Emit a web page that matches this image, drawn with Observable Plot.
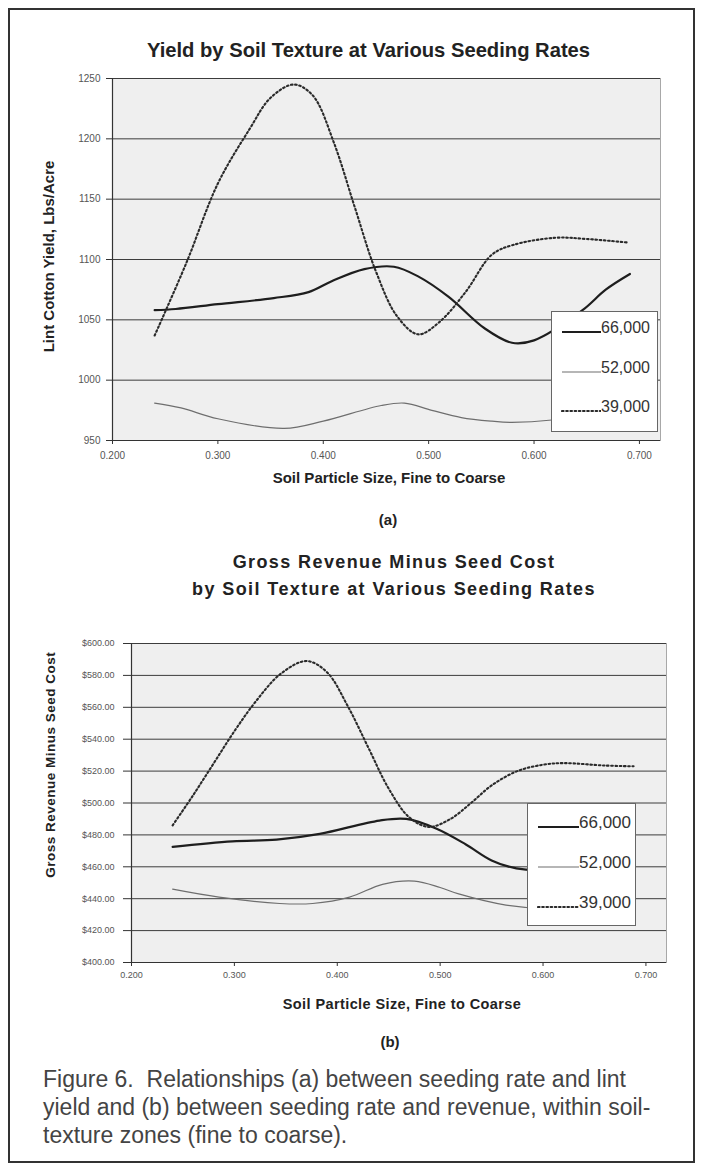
<!DOCTYPE html>
<html><head><meta charset="utf-8">
<script src="https://cdn.jsdelivr.net/npm/d3@7"></script>
<script src="https://cdn.jsdelivr.net/npm/@observablehq/plot@0.6"></script>
<style>
body{margin:0;background:#fff;}
#page{position:relative;width:701px;height:1167px;overflow:hidden;font-family:"Liberation Sans",Arial,sans-serif;color:#222;}
.abs{position:absolute;white-space:nowrap;}
.frame{left:8px;top:8px;width:687px;height:1155px;border:2px solid #333;box-sizing:border-box;}
.b{font-weight:bold;}
.legend{background:#fff;border:1px solid #666;box-sizing:border-box;}
.legend .item{position:absolute;left:9px;color:#333;display:flex;align-items:flex-end;}
</style></head><body><div id="page"><div class="abs frame"></div></div>
<script>
// ---------- data ----------
const seriesNames = ["66,000", "52,000", "39,000"];
const xTicks = [0.2, 0.3, 0.4, 0.5, 0.6, 0.7];
const yTicksA = [950, 1000, 1050, 1100, 1150, 1200, 1250];
const yTicksB = [400, 420, 440, 460, 480, 500, 520, 540, 560, 580, 600];

// (a) Yield, lbs/acre
const a66x = [0.24, 0.26, 0.30, 0.353, 0.386, 0.408, 0.439, 0.467, 0.49, 0.519, 0.553, 0.579, 0.60, 0.646, 0.668, 0.691];
const a66y = [1058, 1059, 1063, 1068, 1073, 1082, 1092, 1094, 1086, 1069, 1043, 1031, 1033, 1058, 1075, 1088];
const a52x = [0.24, 0.265, 0.30, 0.363, 0.40, 0.455, 0.477, 0.503, 0.531, 0.56, 0.579, 0.617, 0.65, 0.685];
const a52y = [981, 977, 968, 960, 966, 979, 981, 975, 969, 966, 965, 967, 972, 978];
const a39x = [0.24, 0.27, 0.30, 0.33, 0.35, 0.372, 0.39, 0.41, 0.43, 0.45, 0.47, 0.49, 0.51, 0.535, 0.56, 0.58, 0.62, 0.65, 0.69];
const a39y = [1037, 1097, 1163, 1208, 1234, 1245, 1236, 1197, 1143, 1090, 1053, 1038, 1048, 1073, 1104, 1112, 1118, 1117, 1114];

// (b) Gross revenue minus seed cost, $
const b66x = [0.24, 0.298, 0.341, 0.383, 0.441, 0.467, 0.496, 0.525, 0.55, 0.574, 0.60, 0.64, 0.68];
const b66y = [472.5, 476, 477, 480.6, 489, 490, 484, 474, 464, 459, 458, 462, 470];
const b52x = [0.24, 0.285, 0.344, 0.376, 0.412, 0.444, 0.475, 0.50, 0.518, 0.564, 0.60, 0.64, 0.68];
const b52y = [446, 441, 437, 437, 441, 449, 451, 447, 443, 436, 434, 436, 440];
const b39x = [0.24, 0.26, 0.28, 0.30, 0.32, 0.345, 0.37, 0.39, 0.41, 0.43, 0.45, 0.47, 0.489, 0.51, 0.53, 0.55, 0.575, 0.60, 0.62, 0.66, 0.688];
const b39y = [486, 505, 525, 545, 563, 581, 589, 582, 561, 535, 509, 491, 485, 490, 500, 511, 520, 524, 525, 523.5, 523];

const captionLines = [
  "Figure 6.  Relationships (a) between seeding rate and lint",
  "yield and (b) between seeding rate and revenue, within soil-",
  "texture zones (fine to coarse)."
];

// ---------- helpers ----------
const page = document.getElementById("page");
const FONT = '"Liberation Sans", Arial, sans-serif';
const rows = (xs, ys) => xs.map((x, i) => ({x, y: ys[i]}));
const styles = [
  {stroke: "#1e1e1e", strokeWidth: 2.2},
  {stroke: "#6e6e6e", strokeWidth: 1.2},
  {stroke: "#2a2a2a", strokeWidth: 2.1, strokeDasharray: "1.6,2.6", strokeLinecap: "round"}
];

function text(str, {cx, left, baseline, size, bold = true, ls = 0, rotate = false, color = "#222"}) {
  const d = document.createElement("div");
  d.className = "abs" + (bold ? " b" : "");
  d.textContent = str;
  d.style.fontSize = size + "px";
  d.style.lineHeight = size + "px";
  d.style.letterSpacing = ls + "px";
  d.style.color = color;
  if (rotate) {
    d.style.width = "400px";
    d.style.textAlign = "center";
    d.style.left = (cx - 200) + "px";
    d.style.top = (baseline - size / 2) + "px";
    d.style.transform = "rotate(-90deg)";
  } else if (cx !== undefined) {
    d.style.width = "800px";
    d.style.textAlign = "center";
    d.style.left = (cx - 400) + "px";
    d.style.top = (baseline - 0.846 * size) + "px";
  } else {
    d.style.left = left + "px";
    d.style.top = (baseline - 0.846 * size) + "px";
  }
  page.appendChild(d);
  return d;
}

function chart({top, height, mt, mb, ml, mr, yDomain, yTicks, yFmt, data, tickFont, yTickSize, yTickPad, xTickPad}) {
  const svg = Plot.plot({
    width: 701, height,
    marginTop: mt, marginBottom: mb, marginLeft: ml, marginRight: mr,
    style: {background: "transparent", fontFamily: FONT, fontSize: tickFont + "px", color: "#555", overflow: "visible"},
    x: {domain: [0.2, 0.72], label: null},
    y: {domain: yDomain, label: null},
    marks: [
      Plot.frame({fill: "#efefef", stroke: "#a8a8a8"}),
      Plot.gridY(yTicks, {stroke: "#3c3c3c", strokeOpacity: 1, strokeWidth: 1}),
      Plot.ruleX([0.2], {stroke: "#333", strokeWidth: 1.2}),
      Plot.ruleY([yDomain[0]], {stroke: "#333", strokeWidth: 1.2}),
      Plot.axisY(yTicks, {tickFormat: yFmt, tickSize: yTickSize, tickPadding: yTickPad, label: null, stroke: "#333"}),
      Plot.axisX(xTicks, {tickFormat: d3.format(".3f"), tickSize: 4, tickPadding: xTickPad, label: null, stroke: "#333"}),
      Plot.line(data[1], {x: "x", y: "y", curve: "catmull-rom", ...styles[1]}),
      Plot.line(data[0], {x: "x", y: "y", curve: "catmull-rom", ...styles[0]}),
      Plot.line(data[2], {x: "x", y: "y", curve: "catmull-rom", ...styles[2]})
    ]
  });
  svg.style.position = "absolute";
  svg.style.left = "0px";
  svg.style.top = top + "px";
  page.appendChild(svg);
}

function legend({left, top, width, height, rowsY, sampleW, size}) {
  const d = document.createElement("div");
  d.className = "abs legend";
  Object.assign(d.style, {left: left + "px", top: top + "px", width: width + "px", height: height + "px"});
  seriesNames.forEach((name, i) => {
    const it = document.createElement("div");
    it.className = "item";
    it.style.top = (rowsY[i] - top - size / 2 - 1) + "px";
    it.style.fontSize = size + "px";
    it.style.lineHeight = size + "px";
    const s = styles[i];
    it.innerHTML = `<svg width="${sampleW}" height="${size}" style="display:block"><line x1="1" x2="${sampleW}" y1="${size - 4}" y2="${size - 4}" stroke="${s.stroke}" stroke-width="${s.strokeWidth}" ${s.strokeDasharray ? `stroke-dasharray="${s.strokeDasharray}" stroke-linecap="round"` : ""}/></svg><span>${name}</span>`;
    d.appendChild(it);
  });
  page.appendChild(d);
}

// ---------- chart (a) ----------
text("Yield by Soil Texture at Various Seeding Rates", {cx: 368.5, baseline: 57, size: 20.2});
chart({
  top: 60, height: 420, mt: 18, mb: 40, ml: 112, mr: 41,
  yDomain: [950, 1250], yTicks: yTicksA, yFmt: d3.format("d"),
  data: [rows(a66x, a66y), rows(a52x, a52y), rows(a39x, a39y)],
  tickFont: 10, yTickSize: 6, yTickPad: 6, xTickPad: 7
});
legend({left: 551, top: 311, width: 107, height: 121, rowsY: [328, 368, 407], sampleW: 40, size: 16});
text("Lint Cotton Yield, Lbs/Acre", {cx: 48, baseline: 256, size: 15, rotate: true});
text("Soil Particle Size, Fine to Coarse", {cx: 389, baseline: 483, size: 15});
text("(a)", {cx: 388, baseline: 525, size: 15});

// ---------- chart (b) ----------
text("Gross Revenue Minus Seed Cost", {cx: 394, baseline: 568, size: 18, ls: 1.4});
text("by Soil Texture at Various Seeding Rates", {cx: 394, baseline: 595, size: 18, ls: 1.4});
chart({
  top: 620, height: 390, mt: 23, mb: 48, ml: 131, mr: 35,
  yDomain: [400, 600], yTicks: yTicksB, yFmt: d3.format("$.2f"),
  data: [rows(b66x, b66y), rows(b52x, b52y), rows(b39x, b39y)],
  tickFont: 9, yTickSize: 8, yTickPad: 9, xTickPad: 5
});
legend({left: 527, top: 803, width: 109, height: 123, rowsY: [822, 862, 902], sampleW: 42, size: 17});
text("Gross Revenue Minus Seed Cost", {cx: 51, baseline: 765, size: 13.5, ls: 0.5, rotate: true});
text("Soil Particle Size, Fine to Coarse", {cx: 402, baseline: 1009, size: 14.5, ls: 0.4});
text("(b)", {cx: 390, baseline: 1047, size: 15});

// ---------- caption ----------
captionLines.forEach((line, i) => {
  const d = text(line, {left: 43, baseline: 1087 + 28 * i, size: 23, bold: false, color: "#444"});
  d.style.whiteSpace = "pre";
});
</script></body></html>
